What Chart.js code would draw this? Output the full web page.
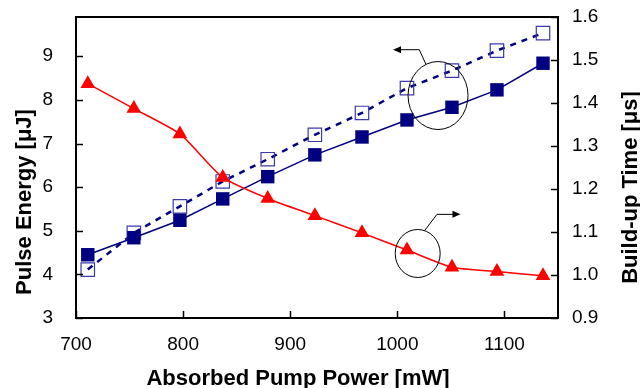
<!DOCTYPE html>
<html>
<head>
<meta charset="utf-8">
<script src="https://cdn.jsdelivr.net/npm/chart.js@4.4.1/dist/chart.umd.min.js"></script>
<style>
  html, body { margin: 0; padding: 0; background: #fff; }
  #wrap { width: 640px; height: 388px; }
</style>
</head>
<body>
<div id="wrap"><canvas id="chart" width="640" height="388"></canvas></div>
<script>
// values
const pumpPower = [711, 754, 797, 837, 879, 923, 967, 1009, 1051, 1093, 1136];
const buildUpTime = [1.445, 1.387, 1.328, 1.227, 1.178, 1.138, 1.098, 1.058, 1.018, 1.008, 0.998];
const energySolid = [4.45, 4.84, 5.24, 5.73, 6.24, 6.74, 7.15, 7.54, 7.83, 8.23, 8.84];
const energyDashed = [4.11, 4.95, 5.56, 6.13, 6.64, 7.20, 7.70, 8.27, 8.67, 9.13, 9.53];

const xTicks = [700, 800, 900, 1000, 1100];
const leftTicks = [3, 4, 5, 6, 7, 8, 9];
const rightTicks = [0.9, 1.0, 1.1, 1.2, 1.3, 1.4, 1.5, 1.6];

const xTitle = 'Absorbed Pump Power [mW]';
const leftTitle = 'Pulse Energy [\u03bcJ]';
const rightTitle = 'Build-up Time [\u03bcs]';

const FONT = '"Liberation Sans", Arial, Helvetica, sans-serif';

const toPoints = (ys) => ys.map((y, i) => ({ x: pumpPower[i], y: y }));

// no extra room for half-labels, the plot box is fixed by layout padding
const noPad = s => { s.paddingTop = 0; s.paddingBottom = 0; s.paddingLeft = 0; s.paddingRight = 0; };

// frame, inward tick marks, axis titles and the two circle/arrow callouts
const decorations = {
    id: 'decorations',
    afterDraw(chart) {
        const ctx = chart.ctx;
        const area = chart.chartArea;
        const sx = chart.scales.x, sy = chart.scales.y, sr = chart.scales.y1;
        ctx.save();

        // tick marks pointing into the plot
        ctx.strokeStyle = '#000';
        ctx.lineWidth = 1.5;
        ctx.beginPath();
        xTicks.forEach(v => {
            const px = Math.round(sx.getPixelForValue(v)) + 0.5;
            ctx.moveTo(px, area.bottom);
            ctx.lineTo(px, area.bottom - 7);
        });
        leftTicks.forEach(v => {
            const py = Math.round(sy.getPixelForValue(v)) + 0.5;
            ctx.moveTo(area.left, py);
            ctx.lineTo(area.left + 7, py);
        });
        rightTicks.forEach(v => {
            const py = Math.round(sr.getPixelForValue(v)) + 0.5;
            ctx.moveTo(area.right, py);
            ctx.lineTo(area.right - 7, py);
        });
        ctx.stroke();

        // frame
        ctx.lineWidth = 2;
        ctx.strokeRect(area.left, area.top, area.right - area.left, area.bottom - area.top);

        // axis titles
        ctx.fillStyle = '#000';
        ctx.font = 'bold 22px ' + FONT;
        ctx.textAlign = 'center';
        ctx.textBaseline = 'alphabetic';
        ctx.fillText(xTitle, 298, 385);

        ctx.save();
        ctx.translate(31, 202);
        ctx.rotate(-Math.PI / 2);
        ctx.fillText(leftTitle, 0, 0);
        ctx.restore();

        ctx.save();
        ctx.translate(637, 187.5);
        ctx.rotate(-Math.PI / 2);
        ctx.fillText(rightTitle, 0, 0);
        ctx.restore();

        // callout for the squares (left axis)
        ctx.lineWidth = 1;
        ctx.strokeStyle = '#000';
        const c1x = sx.getPixelForValue(1038), c1y = sy.getPixelForValue(8.10);
        ctx.beginPath();
        ctx.ellipse(c1x, c1y, 30, 34, 0, 0, Math.PI * 2);
        ctx.stroke();
        const k1x = sx.getPixelForValue(1020.5), k1y = sy.getPixelForValue(9.15);
        const t1x = sx.getPixelForValue(996);
        ctx.beginPath();
        ctx.moveTo(c1x - 12, c1y - 31);
        ctx.lineTo(k1x, k1y);
        ctx.lineTo(t1x + 6, k1y);
        ctx.stroke();
        ctx.beginPath();
        ctx.moveTo(t1x, k1y);
        ctx.lineTo(t1x + 8, k1y - 3.5);
        ctx.lineTo(t1x + 8, k1y + 3.5);
        ctx.closePath();
        ctx.fill();

        // callout for the triangles (right axis)
        const c2x = sx.getPixelForValue(1019), c2y = sr.getPixelForValue(1.05);
        ctx.beginPath();
        ctx.ellipse(c2x, c2y, 22.5, 24, 0, 0, Math.PI * 2);
        ctx.stroke();
        const k2x = sx.getPixelForValue(1037), k2y = sr.getPixelForValue(1.141);
        const t2x = sx.getPixelForValue(1059);
        ctx.beginPath();
        ctx.moveTo(c2x + 7, c2y - 23);
        ctx.lineTo(k2x, k2y);
        ctx.lineTo(t2x - 6, k2y);
        ctx.stroke();
        ctx.beginPath();
        ctx.moveTo(t2x, k2y);
        ctx.lineTo(t2x - 8, k2y - 3.5);
        ctx.lineTo(t2x - 8, k2y + 3.5);
        ctx.closePath();
        ctx.fill();

        ctx.restore();
    }
};

const tickFont = { family: FONT, size: 19 };

new Chart(document.getElementById('chart'), {
    type: 'line',
    data: {
        datasets: [
            {
                label: 'Build-up time',
                data: toPoints(buildUpTime),
                yAxisID: 'y1',
                borderColor: '#ff0000',
                borderWidth: 1.5,
                tension: 0.2,
                pointStyle: 'triangle',
                pointRadius: 8.5,
                pointBackgroundColor: '#ff0000',
                pointBorderColor: '#ff0000',
                pointBorderWidth: 0
            },
            {
                label: 'Pulse energy',
                data: toPoints(energySolid),
                yAxisID: 'y',
                borderColor: '#000080',
                borderWidth: 1.5,
                pointStyle: 'rect',
                pointRadius: 9.5,
                pointBackgroundColor: '#000080',
                pointBorderColor: '#000080',
                pointBorderWidth: 0
            },
            {
                label: 'Pulse energy (dashed)',
                data: toPoints(energyDashed),
                yAxisID: 'y',
                borderColor: '#000080',
                borderWidth: 2.5,
                borderDash: [6, 6],
                pointStyle: 'rect',
                pointRadius: 9.5,
                pointBackgroundColor: 'rgba(0,0,0,0)',
                pointBorderColor: '#3a3aaa',
                pointBorderWidth: 1.2
            }
        ]
    },
    options: {
        responsive: false,
        animation: false,
        devicePixelRatio: 1,
        layout: { padding: { top: 17, left: 0, right: 0, bottom: 0 } },
        plugins: {
            legend: { display: false },
            tooltip: { enabled: false }
        },
        scales: {
            x: {
                type: 'linear',
                min: 700,
                max: 1150,
                afterBuildTicks: s => { s.ticks = xTicks.map(v => ({ value: v })); },
                afterFit: s => { s.height = 70; noPad(s); },
                grid: { display: false, drawTicks: false },
                border: { display: false },
                ticks: { font: tickFont, color: '#000', padding: 15, maxRotation: 0, callback: v => String(v) }
            },
            y: {
                position: 'left',
                min: 3,
                max: 9.9,
                afterBuildTicks: s => { s.ticks = leftTicks.map(v => ({ value: v })); },
                afterFit: s => { s.width = 76; noPad(s); },
                grid: { display: false, drawTicks: false },
                border: { display: false },
                ticks: { font: tickFont, color: '#000', padding: 23, callback: v => String(v) }
            },
            y1: {
                position: 'right',
                min: 0.9,
                max: 1.6,
                afterBuildTicks: s => { s.ticks = rightTicks.map(v => ({ value: v })); },
                afterFit: s => { s.width = 82; noPad(s); },
                grid: { display: false, drawTicks: false },
                border: { display: false },
                ticks: { font: tickFont, color: '#000', padding: 14, callback: v => v.toFixed(1) }
            }
        }
    },
    plugins: [decorations]
});
</script>
</body>
</html>
